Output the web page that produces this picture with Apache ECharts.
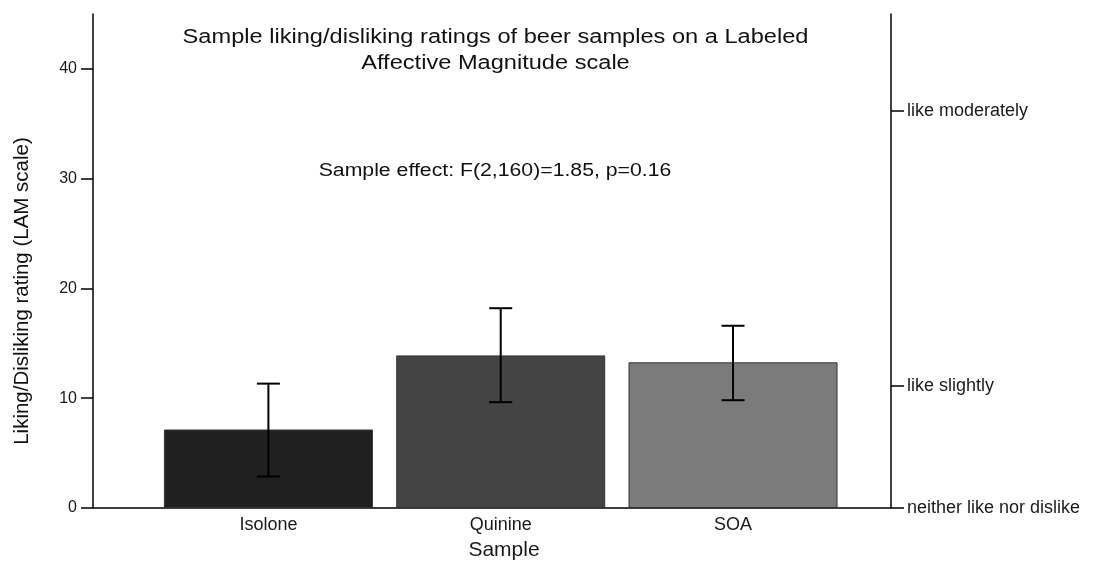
<!DOCTYPE html>
<html>
<head>
<meta charset="utf-8">
<script src="https://cdn.jsdelivr.net/npm/echarts@6/dist/echarts.min.js"></script>
<style>
  html, body { margin: 0; padding: 0; background: #fff; }
  #chart { width: 1093px; height: 566px; }
</style>
</head>
<body>
<div id="chart"></div>
<script>
// Sample means and error bar bounds (LAM scale)
const categories = ['Isolone', 'Quinine', 'SOA'];
const means = [7.15, 13.9, 13.27];
const errLow = [2.87, 9.64, 9.82];
const errHigh = [11.33, 18.2, 16.6];
const barColors = ['#202020', '#444444', '#7b7b7b'];

// Left axis ticks and right-hand verbal anchors of the LAM scale
const leftTicks = [0, 10, 20, 30, 40];
const anchorValues = [0, 11.1, 36.2];
const anchorLabels = ['neither like nor dislike', 'like slightly', 'like moderately'];

const titleLines = ['Sample liking/disliking ratings of beer samples on a Labeled', 'Affective Magnitude scale'];
const statText = 'Sample effect: F(2,160)=1.85, p=0.16';

const FONT = '"Liberation Sans", Arial, Helvetica, sans-serif';
const positions = categories.map((_, i) => i + 1);
const WIDE = 1.18; // horizontal stretch of the free-standing texts

const chart = echarts.init(document.getElementById('chart'), null, { renderer: 'canvas' });

const option = {
  animation: false,
  backgroundColor: '#fff',
  textStyle: { fontFamily: FONT },
  grid: { left: 93, right: 202, top: 14, bottom: 55, containLabel: false },
  xAxis: {
    type: 'value',
    min: 0.245,
    max: 3.68,
    axisLine: { show: true, lineStyle: { color: '#000', width: 1.5 } },
    axisTick: { show: false },
    splitLine: { show: false },
    axisLabel: {
      customValues: positions,
      formatter: v => categories[Math.round(v) - 1] || '',
      color: '#1a1a1a',
      fontSize: 18,
      margin: 8,
      fontFamily: FONT
    },
    name: 'Sample',
    nameLocation: 'middle',
    nameGap: 32,
    nameTextStyle: { fontSize: 21, color: '#1a1a1a', fontFamily: FONT, padding: [0, 0, 0, 24] }
  },
  yAxis: [
    {
      type: 'value',
      min: 0,
      max: 45,
      position: 'left',
      axisLine: { show: true, lineStyle: { color: '#000', width: 1.5 } },
      axisTick: { show: true, customValues: leftTicks, length: 12, lineStyle: { color: '#000', width: 1.5 } },
      splitLine: { show: false },
      axisLabel: { customValues: leftTicks, color: '#1a1a1a', fontSize: 16, margin: 16, fontFamily: FONT }
    },
    {
      type: 'value',
      min: 0,
      max: 45,
      position: 'right',
      axisLine: { show: true, lineStyle: { color: '#000', width: 1.5 } },
      axisTick: { show: true, customValues: anchorValues, length: 13, lineStyle: { color: '#000', width: 1.5 } },
      splitLine: { show: false },
      axisLabel: {
        customValues: anchorValues,
        formatter: v => {
          const i = anchorValues.findIndex(a => Math.abs(a - v) < 1e-6);
          return i >= 0 ? anchorLabels[i] : '';
        },
        color: '#1a1a1a',
        fontSize: 18,
        margin: 16,
        fontFamily: FONT
      }
    }
  ],
  series: [
    {
      type: 'bar',
      yAxisIndex: 0,
      barWidth: 209,
      data: means.map((m, i) => ({
        value: [positions[i], m],
        itemStyle: { color: barColors[i], borderColor: '#333', borderWidth: 1 }
      })),
      z: 2
    },
    {
      type: 'custom',
      yAxisIndex: 0,
      z: 5,
      data: means.map((_, i) => [positions[i], errLow[i], errHigh[i]]),
      renderItem: (params, api) => {
        const x = api.value(0);
        const lo = api.coord([x, api.value(1)]);
        const hi = api.coord([x, api.value(2)]);
        const half = 11.5;
        const style = { stroke: '#000', lineWidth: 2 };
        return {
          type: 'group',
          children: [
            { type: 'line', shape: { x1: lo[0], y1: lo[1], x2: hi[0], y2: hi[1] }, style },
            { type: 'line', shape: { x1: hi[0] - half, y1: hi[1], x2: hi[0] + half, y2: hi[1] }, style },
            { type: 'line', shape: { x1: lo[0] - half, y1: lo[1], x2: lo[0] + half, y2: lo[1] }, style }
          ]
        };
      }
    }
  ],
  graphic: [
    {
      type: 'text',
      x: 495.5,
      y: 37,
      scaleX: WIDE,
      style: {
        text: titleLines[0],
        font: '20px ' + FONT,
        fill: '#111',
        align: 'center',
        verticalAlign: 'middle'
      }
    },
    {
      type: 'text',
      x: 495.5,
      y: 63,
      scaleX: WIDE,
      style: {
        text: titleLines[1],
        font: '20px ' + FONT,
        fill: '#111',
        align: 'center',
        verticalAlign: 'middle'
      }
    },
    {
      type: 'text',
      x: 495,
      y: 171,
      scaleX: WIDE,
      style: {
        text: statText,
        font: '18px ' + FONT,
        fill: '#111',
        align: 'center',
        verticalAlign: 'middle'
      }
    },
    {
      type: 'text',
      x: 22,
      y: 291,
      rotation: Math.PI / 2,
      style: {
        text: 'Liking/Disliking rating (LAM scale)',
        font: '20.5px ' + FONT,
        fill: '#111',
        align: 'center',
        verticalAlign: 'middle'
      }
    }
  ]
};

chart.setOption(option);
</script>
</body>
</html>
